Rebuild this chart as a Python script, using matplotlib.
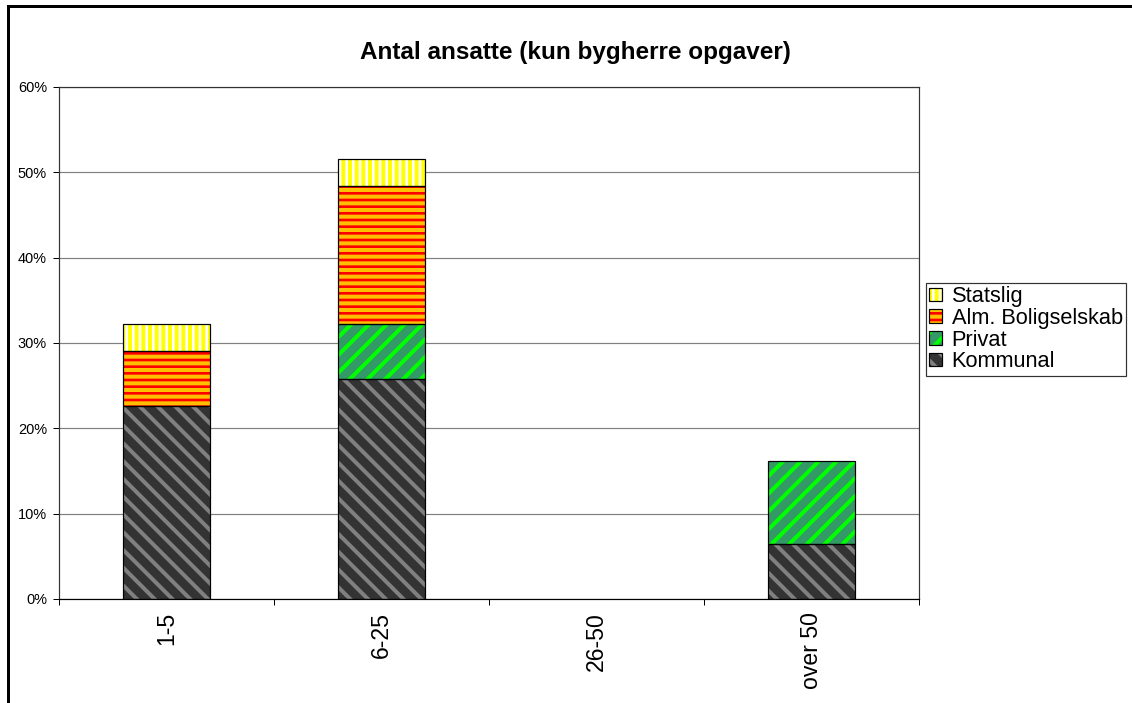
import matplotlib
matplotlib.use('Agg')
import matplotlib.pyplot as plt
from matplotlib.patches import Rectangle
from matplotlib.ticker import PercentFormatter, FixedLocator
import numpy as np

# data (percent of respondents)
categories = ['1-5', '6-25', '26-50', 'over 50']
kommunal = [22.6, 25.8, 0, 6.45]
privat = [0, 6.45, 0, 9.7]
alm = [6.45, 16.1, 0, 0]
statslig = [3.2, 3.2, 0, 0]

DPI = 160
W, H = 1132, 703
def px(v):
    # pixels -> points at this dpi
    return v * 72 / DPI

plt.rcParams['font.family'] = ['Liberation Sans', 'DejaVu Sans']
plt.rcParams['hatch.linewidth'] = 1.8

fig = plt.figure(figsize=(W / DPI, H / DPI), dpi=DPI)
ax = fig.add_axes([59 / W, 1 - 599 / H, 860 / W, 512 / H])

x = np.arange(len(categories))
width = 0.405

# series: (label, values, face, stripe colour, hatch)
series = [
    ('Kommunal', kommunal, '#333333', '#808080', '\\\\\\'),
    ('Privat', privat, '#339966', '#00FF00', '///'),
    ('Alm. Boligselskab', alm, '#FF0000', '#FFC000', '----'),
    ('Statslig', statslig, '#FFFFFF', '#FFFF00', '||||'),
]

bottom = np.zeros(len(categories))
handles = {}
for label, vals, face, stripe, hatch in series:
    vals = np.array(vals, dtype=float)
    hb = ax.bar(x, vals, width, bottom=bottom, color=face, edgecolor=stripe,
                hatch=hatch, linewidth=0, zorder=2)
    ob = ax.bar(x, vals, width, bottom=bottom, fill=False, edgecolor='black',
                linewidth=px(1.2), zorder=3)
    for i, v in enumerate(vals):
        if v == 0:
            hb[i].set_visible(False)
            ob[i].set_visible(False)
    k = 0 if vals[0] > 0 else 1
    handles[label] = (hb[k], ob[k])
    bottom += vals

ax.set_xlim(-0.5, 3.5)
ax.set_ylim(0, 60)
ax.set_yticks(np.arange(0, 61, 10))
ax.yaxis.set_major_formatter(PercentFormatter(100, decimals=0))
ax.set_xticks(x)
ax.set_xticklabels(categories, rotation=90, fontsize=px(23))
ax.xaxis.set_minor_locator(FixedLocator([-0.5, 0.5, 1.5, 2.5, 3.5]))
ax.tick_params(axis='x', which='major', length=0, pad=px(13))
ax.tick_params(axis='x', which='minor', length=px(6), width=px(1), direction='out')
ax.tick_params(axis='y', length=px(6), width=px(1), labelsize=px(14.5), pad=px(6))
ax.yaxis.grid(True, color='#808080', linewidth=px(1.2), zorder=0)
ax.set_axisbelow(True)
for s in ax.spines.values():
    s.set_color('#333333')
    s.set_linewidth(px(1.2))
ax.spines['bottom'].set_color('black')
ax.spines['bottom'].set_zorder(4)

fig.text(575 / W, 1 - 53 / H, 'Antal ansatte (kun bygherre opgaver)',
         fontsize=px(24.3), fontweight='bold', ha='center', va='center')

order = ['Statslig', 'Alm. Boligselskab', 'Privat', 'Kommunal']
leg = fig.legend([handles[k] for k in order], order, loc='upper left',
                 bbox_to_anchor=(926 / W, 1 - 283 / H), fontsize=px(21.8),
                 frameon=True, fancybox=False, shadow=False, borderpad=0.15,
                 labelspacing=0.03, handlelength=0.58, handleheight=0.58,
                 handletextpad=0.45, borderaxespad=0)
leg.get_frame().set_edgecolor('black')
leg.get_frame().set_linewidth(px(1.2))

# outer chart border (cut off at right and bottom in the reference)
fig.add_artist(Rectangle((8 / W, -0.1), 1.2, 1.1 - 6 / H, transform=fig.transFigure,
                         fill=False, edgecolor='black', linewidth=px(3), clip_on=False))

fig.savefig('out.png', dpi=DPI)
